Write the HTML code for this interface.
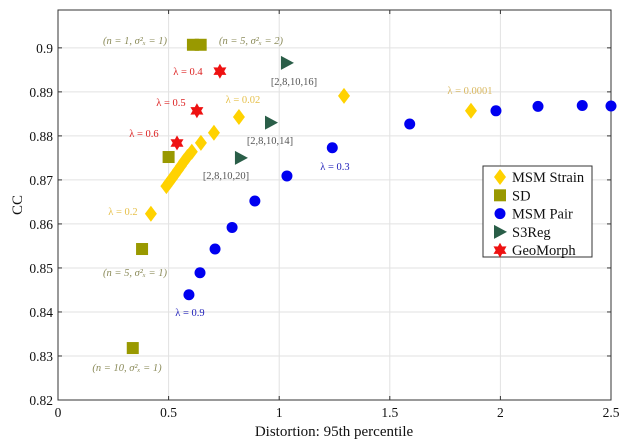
<!DOCTYPE html>
<html><head><meta charset="utf-8"><style>
html,body{margin:0;padding:0;background:#fff;}
svg{display:block;font-family:"Liberation Serif",serif;}
</style></head><body>
<svg id="chart" width="630" height="446"></svg>
<script>
const xTicks=[0,0.5,1,1.5,2,2.5];
const xTickLabels=["0","0.5","1","1.5","2","2.5"];
const yTicks=[0.82,0.83,0.84,0.85,0.86,0.87,0.88,0.89,0.9];
const yTickLabels=["0.82","0.83","0.84","0.85","0.86","0.87","0.88","0.89","0.9"];
const strainX=[1.867,1.293,0.818,0.705,0.646,0.605,0.585,0.57,0.556,0.542,0.528,0.515,0.502,0.49,0.42];
const strainY=[0.8857,0.8891,0.8843,0.8807,0.8784,0.8764,0.8752,0.8742,0.8732,0.8722,0.8712,0.8703,0.8694,0.8686,0.8623];
const sdX=[0.61,0.645,0.50,0.38,0.338];
const sdY=[0.9007,0.9007,0.8752,0.8543,0.8318];
const pairX=[2.50,2.37,2.17,1.98,1.59,1.24,1.035,0.89,0.787,0.71,0.642,0.592];
const pairY=[0.8868,0.8869,0.8867,0.8857,0.8827,0.8773,0.8709,0.8652,0.8592,0.8543,0.8489,0.8439];
const s3X=[1.035,0.963,0.827];
const s3Y=[0.8966,0.8830,0.8750];
const geoX=[0.732,0.628,0.538];
const geoY=[0.8947,0.8857,0.8784];
const L=58,R=611,T=10,B=400,X0=0,X1=2.5,Y0=0.82,Y1=0.9086;
function sx(v){return L+(v-X0)/(X1-X0)*(R-L);}
function sy(v){return B-(v-Y0)/(Y1-Y0)*(B-T);}
const svg=document.getElementById('chart');const NS='http://www.w3.org/2000/svg';
function mk(t,a,p){const e=document.createElementNS(NS,t);for(const k in a)e.setAttribute(k,a[k]);(p||svg).appendChild(e);return e;}
mk('rect',{x:L,y:T,width:R-L,height:B-T,fill:'#fff'});
xTicks.forEach((v,i)=>{
 const g=mk('line',{x1:sx(v),x2:sx(v),y1:T,y2:B,stroke:'#e2e2e2','stroke-width':1});
 
 mk('line',{x1:sx(v),x2:sx(v),y1:B,y2:B-4,stroke:'#333'});mk('line',{x1:sx(v),x2:sx(v),y1:T,y2:T+4,stroke:'#333'});
 const t=mk('text',{x:sx(v),y:B+17,'text-anchor':'middle','font-size':13.5,fill:'#111'});t.textContent=xTickLabels[i];
 
});
yTicks.forEach((v,i)=>{
 const g=mk('line',{x1:L,x2:R,y1:sy(v),y2:sy(v),stroke:'#e2e2e2','stroke-width':1});
 
 mk('line',{x1:L,x2:L+4,y1:sy(v),y2:sy(v),stroke:'#333'});mk('line',{x1:R,x2:R-4,y1:sy(v),y2:sy(v),stroke:'#333'});
 const t=mk('text',{x:L-5,y:sy(v)+5,'text-anchor':'end','font-size':13.5,fill:'#111'});t.textContent=yTickLabels[i];
 
});
const ax=mk('rect',{x:L,y:T,width:R-L,height:B-T,fill:'none',stroke:'#333','stroke-width':1});

function diamond(x,y,c,p){return mk('polygon',{points:`${x},${y-8} ${x+6},${y} ${x},${y+8} ${x-6},${y}`,fill:c},p);}
function square(x,y,c,p){return mk('rect',{x:x-6,y:y-6,width:12,height:12,fill:c},p);}
function circ(x,y,c,p){return mk('circle',{cx:x,cy:y,r:5.5,fill:c},p);}
function tri(x,y,c,p){return mk('polygon',{points:`${x-6},${y-7} ${x+7},${y} ${x-6},${y+7}`,fill:c},p);}
function star(x,y,c,p){const r=7.5,q=4.3;let pts=[];for(let i=0;i<12;i++){const a=Math.PI/6*i-Math.PI/2;const rr=i%2?q:r;pts.push((x+rr*Math.cos(a)).toFixed(1)+','+(y+rr*Math.sin(a)).toFixed(1));}return mk('polygon',{points:pts.join(' '),fill:c},p);}
const YEL='#ffd200',OL='#999900',BL='#0000f0',GR='#2a5e48',RD='#ee1111';
strainX.forEach((v,i)=>{const e=diamond(sx(v),sy(strainY[i]),YEL);});
sdX.forEach((v,i)=>{const e=square(sx(v),sy(sdY[i]),OL);});
pairX.forEach((v,i)=>{const e=circ(sx(v),sy(pairY[i]),BL);});
s3X.forEach((v,i)=>{const e=tri(sx(v),sy(s3Y[i]),GR);});
geoX.forEach((v,i)=>{const e=star(sx(v),sy(geoY[i]),RD);});
const ann=[
 ['(n = 1, σ²ₓ = 1)',135,44,'#8b8b5a','italic'],['(n = 5, σ²ₓ = 2)',251,44,'#8b8b5a','italic'],
 ['λ = 0.4',188,75,'#dd2222',''],['[2,8,10,16]',294,85,'#555',''],['λ = 0.02',243,103,'#e6c04a',''],
 ['λ = 0.5',171,106,'#dd2222',''],['[2,8,10,14]',270,144,'#555',''],['λ = 0.6',144,137,'#dd2222',''],
 ['[2,8,10,20]',226,179,'#555',''],['λ = 0.3',335,170,'#2222bb',''],['λ = 0.0001',470,94,'#d9b860',''],
 ['λ = 0.2',123,215,'#e6c04a',''],['(n = 5, σ²ₓ = 1)',135,276,'#8b8b5a','italic'],['λ = 0.9',190,316,'#2222bb',''],
 ['(n = 10, σ²ₓ = 1)',127,371,'#8b8b5a','italic']];
ann.forEach(a=>{const t=mk('text',{x:a[1],y:a[2],'text-anchor':'middle','font-size':10.5,fill:a[3],'font-style':a[4]||'normal'});t.textContent=a[0];
 });
const xt=mk('text',{x:334,y:436,'text-anchor':'middle','font-size':15,fill:'#111'});xt.textContent='Distortion: 95th percentile';

const yt=mk('text',{x:22,y:205,'text-anchor':'middle','font-size':15,fill:'#111',transform:'rotate(-90 22 205)'});yt.textContent='CC';

const lg=mk('g',{});
mk('rect',{x:483,y:166,width:109,height:91,fill:'#fff',stroke:'#333','stroke-width':1},lg);
const names=['MSM Strain','SD','MSM Pair','S3Reg','GeoMorph'];const fns=[diamond,square,circ,tri,star];const cols=[YEL,OL,BL,GR,RD];
names.forEach((n,i)=>{const y=177+i*18.3;const e=mk('g',{},lg);
 fns[i](500,y,cols[i],e);const t=mk('text',{x:512,y:y+5,'font-size':14.5,fill:'#111'},e);t.textContent=n;});
</script>
</body></html>
